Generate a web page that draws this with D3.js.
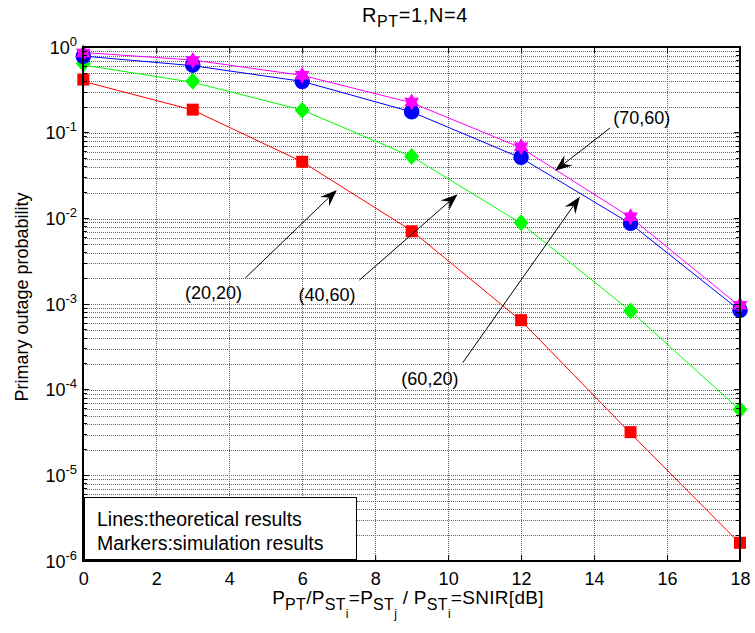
<!DOCTYPE html>
<html>
<head>
<meta charset="utf-8">
<script src="https://cdn.jsdelivr.net/npm/d3@7"></script>
<style>
  html, body { margin: 0; padding: 0; background: #fff; }
  svg { display: block; font-family: "Liberation Sans", Arial, sans-serif; }
</style>
</head>
<body>
<svg id="chart" width="755" height="633"></svg>
<script>
// ---------------- data ----------------
const snirDb = [0, 3, 6, 9, 12, 15, 18];
const xTickValues = [0, 2, 4, 6, 8, 10, 12, 14, 16, 18];
const yDecades = [0, -1, -2, -3, -4, -5, -6];

// simulation results (markers)
const sim2020 = [0.42, 0.187, 0.046, 0.0071, 0.00065, 3.2e-5, 1.63e-6];
const sim4060 = [0.645, 0.40, 0.184, 0.053, 0.0089, 0.00083, 5.9e-5];
const sim6020 = [0.785, 0.62, 0.40, 0.177, 0.052, 0.0088, 0.00085];
const sim7060 = [0.86, 0.70, 0.47, 0.23, 0.069, 0.0105, 0.00097];

// theoretical results (lines)
const th2020 = [0.40, 0.185, 0.046, 0.0072, 0.00064, 3.1e-5, 1.6e-6];
const th4060 = [0.62, 0.39, 0.185, 0.053, 0.0088, 0.00083, 5.8e-5];
const th6020 = [0.79, 0.61, 0.40, 0.176, 0.051, 0.0087, 0.00084];
const th7060 = [0.87, 0.71, 0.47, 0.225, 0.067, 0.0103, 0.00094];

const seriesNames = ["(20,20)", "(40,60)", "(60,20)", "(70,60)"];
const seriesColors = ["#ff0000", "#00ff00", "#0000ff", "#ff00ff"];
const seriesMarkers = ["square", "diamond", "circle", "hexagram"];

// annotations: label position and arrow tail/tip in data coordinates
const annLabels = ["(20,20)", "(40,60)", "(60,20)", "(70,60)"];
const annTextX = [3.57, 6.68, 9.50, 15.31];
const annTextY = [0.00115, 0.00109, 1.135e-4, 0.1268];
const annTailX = [4.44, 7.57, 10.40, 14.44];
const annTailY = [0.00202, 0.00191, 2.07e-4, 0.1142];
const annTipX = [6.95, 10.26, 13.61, 12.93];
const annTipY = [0.0216, 0.0192, 0.0180, 0.0362];

const titleMain = "R", titleSub = "PT", titleRest = "=1,N=4";
const yLabel = "Primary outage probability";
const legendLines = ["Lines:theoretical results", "Markers:simulation results"];

// ---------------- layout ----------------
const svg = d3.select("#chart");
const L = 83.3, R = 740, T = 47.3, B = 561;
const x = d3.scaleLinear().domain([0, 18]).range([L, R]);
const y = d3.scaleLog().domain([1e-6, 1]).range([B, T]);

svg.append("rect").attr("width", 755).attr("height", 633).attr("fill", "#fff");

// grid
const grid = svg.append("g").attr("stroke", "#000").attr("stroke-width", 1)
  .attr("stroke-dasharray", "1,1").attr("opacity", 0.6).attr("shape-rendering", "crispEdges");
xTickValues.forEach(v => {
  grid.append("line").attr("x1", Math.round(x(v)) + 0.5).attr("x2", Math.round(x(v)) + 0.5)
    .attr("y1", T).attr("y2", B);
});
const yGridVals = [];
yDecades.forEach(e => {
  if (e < 0) for (let m = 1; m <= 9; m++) yGridVals.push(m * Math.pow(10, e));
});
yGridVals.push(1);
yGridVals.forEach(v => {
  grid.append("line").attr("x1", L).attr("x2", R)
    .attr("y1", Math.round(y(v)) + 0.5).attr("y2", Math.round(y(v)) + 0.5);
});

// lines (theory)
const thAll = [th2020, th4060, th6020, th7060];
const line = d3.line().x(d => x(d[0])).y(d => y(d[1]));
thAll.forEach((arr, i) => {
  svg.append("path").datum(snirDb.map((s, j) => [s, arr[j]]))
    .attr("d", line).attr("fill", "none").attr("stroke", seriesColors[i]).attr("stroke-width", 1);
});

// markers (simulation)
function hexagram(r) {
  const pts = [];
  for (let k = 0; k < 12; k++) {
    const ang = -Math.PI / 2 + k * Math.PI / 6;
    const rr = (k % 2 === 0) ? r : r / Math.sqrt(3);
    pts.push([rr * Math.cos(ang), rr * Math.sin(ang)]);
  }
  return "M" + pts.map(p => p.join(",")).join("L") + "Z";
}
function markerPath(kind) {
  if (kind === "square") return "M-6,-6H6V6H-6Z";
  if (kind === "diamond") return "M0,-8.5L7.5,0L0,8.5L-7.5,0Z";
  if (kind === "circle") return d3.symbol(d3.symbolCircle, Math.PI * 7.8 * 7.8)();
  return hexagram(8.5);
}
const simAll = [sim2020, sim4060, sim6020, sim7060];
simAll.forEach((arr, i) => {
  svg.append("g").selectAll("path").data(snirDb.map((s, j) => [s, arr[j]])).join("path")
    .attr("transform", d => `translate(${x(d[0])},${y(d[1])})`)
    .attr("d", markerPath(seriesMarkers[i]))
    .attr("fill", seriesColors[i]);
});

// axes box
const axisG = svg.append("g").attr("shape-rendering", "crispEdges");
axisG.append("rect").attr("x", L).attr("y", T).attr("width", R - L).attr("height", B - T)
  .attr("fill", "none").attr("stroke", "#000").attr("stroke-width", 2);

// x ticks (inside, bottom and top)
const xAxis = d3.axisBottom(x).tickValues(xTickValues).tickSize(-6).tickPadding(11).tickFormat(d3.format("d"));
const gx = svg.append("g").attr("transform", `translate(0,${B})`).call(xAxis);
gx.select(".domain").remove();
gx.selectAll("text").attr("font-size", 18).attr("font-family", "Liberation Sans, Arial, sans-serif").attr("fill", "#000");
gx.selectAll("line").attr("stroke", "#000");
const gxt = svg.append("g").attr("transform", `translate(0,${T})`)
  .call(d3.axisTop(x).tickValues(xTickValues).tickSize(-6).tickFormat(""));
gxt.select(".domain").remove();

// y ticks (inside, left and right)
const yTickMajor = yDecades.map(e => Math.pow(10, e));
const yTickMinor = yGridVals.filter(v => !yTickMajor.some(m => Math.abs(m - v) / v < 1e-9));
[[L, 1], [R, -1]].forEach(([ax, dir]) => {
  yTickMajor.forEach(v => {
    axisG.append("line").attr("x1", ax).attr("x2", ax + dir * 6).attr("y1", y(v)).attr("y2", y(v)).attr("stroke", "#000");
  });
  yTickMinor.forEach(v => {
    axisG.append("line").attr("x1", ax).attr("x2", ax + dir * 4).attr("y1", y(v)).attr("y2", y(v)).attr("stroke", "#000");
  });
});

// y tick labels 10^e
yDecades.forEach(e => {
  const t = svg.append("text").attr("x", 77).attr("y", y(Math.pow(10, e)) + 6.5)
    .attr("text-anchor", "end").attr("font-size", 18).attr("fill", "#000");
  t.append("tspan").text("10");
  t.append("tspan").attr("dy", -8).attr("font-size", 13).text(String(e));
});

// annotations
const annG = svg.append("g");
annLabels.forEach((lab, i) => {
  const tx = x(annTailX[i]), ty = y(annTailY[i]);
  const px = x(annTipX[i]), py = y(annTipY[i]);
  const dx = px - tx, dy = py - ty, len = Math.hypot(dx, dy);
  const ux = dx / len, uy = dy / len, nx = -uy, ny = ux;
  const Lh = 17, w = 6.5, b = 11;
  annG.append("line").attr("x1", tx).attr("y1", ty).attr("x2", px - b * ux).attr("y2", py - b * uy)
    .attr("stroke", "#000").attr("stroke-width", 1);
  const pts = [[px, py], [px - Lh * ux + w * nx, py - Lh * uy + w * ny], [px - b * ux, py - b * uy],
    [px - Lh * ux - w * nx, py - Lh * uy - w * ny]];
  annG.append("path").attr("d", "M" + pts.map(p => p.join(",")).join("L") + "Z").attr("fill", "#000");
  annG.append("text").attr("x", x(annTextX[i])).attr("y", y(annTextY[i]))
    .attr("text-anchor", "middle").attr("font-size", 18).attr("fill", "#000").text(lab);
});

// legend box
const lg = svg.append("g");
lg.append("rect").attr("x", 84.5).attr("y", 497.5).attr("width", 272).attr("height", 62)
  .attr("fill", "#fff").attr("stroke", "#000").attr("stroke-width", 1.5).attr("shape-rendering", "crispEdges");
legendLines.forEach((s, i) => {
  lg.append("text").attr("x", 97).attr("y", 526 + i * 24).attr("font-size", 19.5).attr("fill", "#000").text(s);
});

// title
const tt = svg.append("text").attr("x", 415).attr("y", 22).attr("text-anchor", "middle")
  .attr("font-size", 20).attr("letter-spacing", 0.6).attr("fill", "#000");
tt.append("tspan").text(titleMain);
tt.append("tspan").attr("dy", 5).attr("font-size", 16).text(titleSub);
tt.append("tspan").attr("dy", -5).text(titleRest);

// x label with sub/subsub scripts
const xl = svg.append("text").attr("x", 408).attr("y", 604).attr("text-anchor", "middle")
  .attr("font-size", 19).attr("letter-spacing", 0.3).attr("fill", "#000");
const parts = [
  ["P", 0, 19], ["PT", 6, 16], ["/P", -6, 19], ["ST", 6, 16], ["i", 8, 12], ["=P", -14, 19],
  ["ST", 6, 16], ["j", 8, 12], [" / P", -14, 19], ["ST", 6, 16], ["i", 8, 12], ["=SNIR[dB]", -14, 19]
];
parts.forEach(([s, d, fs]) => {
  xl.append("tspan").attr("dy", d).attr("font-size", fs).text(s);
});

// y label
svg.append("text").attr("transform", "translate(28,297) rotate(-90)")
  .attr("text-anchor", "middle").attr("font-size", 18).attr("fill", "#000").text(yLabel);
</script>
</body>
</html>
